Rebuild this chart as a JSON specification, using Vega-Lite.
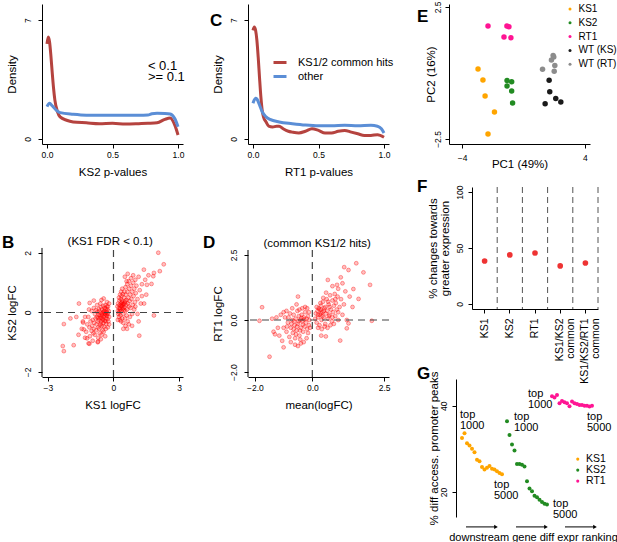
{
"$schema":"https://vega.github.io/schema/vega-lite/v6.json",
"padding":{"left":2,"top":0,"right":0,"bottom":0},
"autosize":{"type":"pad"},
"columns":5,"spacing":0,"align":"none","bounds":"flush",
"resolve":{"scale":{"color":"independent"},"legend":{"color":"independent"}},
"config":{
 "font":"Liberation Sans",
 "view":{"stroke":null},
 "axis":{"grid":false,"domainColor":"#000","tickColor":"#000","labelColor":"#000","titleColor":"#000","labelFontSize":8.5,"titleFontSize":11.5,"titleFontWeight":"normal","tickSize":4,"domainWidth":1,"tickWidth":1,"labelPadding":2.5,"titlePadding":7,"labelFlush":false,"labelOverlap":false},
 "axisY":{"labelAngle":-90,"labelAlign":"center","labelBaseline":"bottom","labelPadding":6,"titlePadding":6},
 "legend":{"padding":0,"labelColor":"#000","labelFont":"Liberation Sans"},
 "title":{"anchor":"start","frame":"group","fontSize":17,"fontWeight":"bold","baseline":"alphabetic","color":"#000"},
 "text":{"color":"#000"}
},
"concat":[
{"width":141,"height":140,
 "layer":[
  {"data":{"values":[
   {"p":0,"density":5.6,"fdr":"< 0.1"},{"p":0.01,"density":6.0,"fdr":"< 0.1"},{"p":0.02,"density":5.7,"fdr":"< 0.1"},{"p":0.03,"density":4.9,"fdr":"< 0.1"},{"p":0.04,"density":3.9,"fdr":"< 0.1"},{"p":0.05,"density":3.0,"fdr":"< 0.1"},{"p":0.06,"density":2.3,"fdr":"< 0.1"},{"p":0.08,"density":1.6,"fdr":"< 0.1"},{"p":0.1,"density":1.3,"fdr":"< 0.1"},{"p":0.15,"density":1.1,"fdr":"< 0.1"},{"p":0.2,"density":1.0,"fdr":"< 0.1"},{"p":0.3,"density":0.95,"fdr":"< 0.1"},{"p":0.4,"density":0.9,"fdr":"< 0.1"},{"p":0.5,"density":0.92,"fdr":"< 0.1"},{"p":0.6,"density":0.88,"fdr":"< 0.1"},{"p":0.7,"density":0.9,"fdr":"< 0.1"},{"p":0.77,"density":0.92,"fdr":"< 0.1"},{"p":0.84,"density":0.95,"fdr":"< 0.1"},{"p":0.9,"density":1.15,"fdr":"< 0.1"},{"p":0.94,"density":1.23,"fdr":"< 0.1"},{"p":0.977,"density":0.78,"fdr":"< 0.1"},{"p":1.0,"density":0.23,"fdr":"< 0.1"},
   {"p":0,"density":1.9,"fdr":">= 0.1"},{"p":0.02,"density":2.1,"fdr":">= 0.1"},{"p":0.04,"density":1.95,"fdr":">= 0.1"},{"p":0.07,"density":1.7,"fdr":">= 0.1"},{"p":0.1,"density":1.55,"fdr":">= 0.1"},{"p":0.2,"density":1.45,"fdr":">= 0.1"},{"p":0.3,"density":1.4,"fdr":">= 0.1"},{"p":0.4,"density":1.4,"fdr":">= 0.1"},{"p":0.5,"density":1.4,"fdr":">= 0.1"},{"p":0.6,"density":1.4,"fdr":">= 0.1"},{"p":0.7,"density":1.4,"fdr":">= 0.1"},{"p":0.77,"density":1.41,"fdr":">= 0.1"},{"p":0.8,"density":1.48,"fdr":">= 0.1"},{"p":0.84,"density":1.51,"fdr":">= 0.1"},{"p":0.9,"density":1.5,"fdr":">= 0.1"},{"p":0.94,"density":1.47,"fdr":">= 0.1"},{"p":0.977,"density":1.17,"fdr":">= 0.1"},{"p":1.0,"density":0.72,"fdr":">= 0.1"}
  ]},
  "mark":{"type":"line","strokeWidth":3,"interpolate":"monotone"},
  "encoding":{
   "x":{"field":"p","type":"quantitative","scale":{"domain":[-0.038,1.038],"nice":false,"zero":false},"axis":{"values":[0,0.5,1],"format":".1f","title":"KS2 p-values"}},
   "y":{"field":"density","type":"quantitative","scale":{"domain":[-0.3,7.95],"nice":false,"zero":false},"axis":{"values":[0,7],"title":"Density"}},
   "color":{"field":"fdr","type":"nominal","scale":{"domain":["< 0.1",">= 0.1"],"range":["#b5433f","#5b8ed6"]},"legend":null}}},
  {"data":{"values":[{}]},"mark":{"type":"text","text":"< 0.1","align":"left","baseline":"middle","fontSize":13},"encoding":{"x":{"datum":0.77},"y":{"datum":4.3}}},
  {"data":{"values":[{}]},"mark":{"type":"text","text":">= 0.1","align":"left","baseline":"middle","fontSize":13},"encoding":{"x":{"datum":0.77},"y":{"datum":3.62}}}
 ]},
{"width":65,"height":1,"data":{"values":[]},"mark":"point"},
{"width":141,"height":140,
 "title":{"text":"C","dx":-38,"offset":-25.5},
 "data":{"values":[
  {"p":0,"density":6.4,"group":"KS1/2 common hits"},{"p":0.01,"density":6.6,"group":"KS1/2 common hits"},{"p":0.02,"density":6.4,"group":"KS1/2 common hits"},{"p":0.03,"density":5.8,"group":"KS1/2 common hits"},{"p":0.04,"density":4.8,"group":"KS1/2 common hits"},{"p":0.05,"density":3.6,"group":"KS1/2 common hits"},{"p":0.06,"density":2.5,"group":"KS1/2 common hits"},{"p":0.07,"density":1.7,"group":"KS1/2 common hits"},{"p":0.08,"density":1.3,"group":"KS1/2 common hits"},{"p":0.1,"density":1.0,"group":"KS1/2 common hits"},{"p":0.12,"density":0.75,"group":"KS1/2 common hits"},{"p":0.15,"density":0.7,"group":"KS1/2 common hits"},{"p":0.18,"density":0.75,"group":"KS1/2 common hits"},{"p":0.2,"density":0.75,"group":"KS1/2 common hits"},{"p":0.23,"density":0.6,"group":"KS1/2 common hits"},{"p":0.27,"density":0.45,"group":"KS1/2 common hits"},{"p":0.3,"density":0.4,"group":"KS1/2 common hits"},{"p":0.35,"density":0.35,"group":"KS1/2 common hits"},{"p":0.4,"density":0.45,"group":"KS1/2 common hits"},{"p":0.45,"density":0.6,"group":"KS1/2 common hits"},{"p":0.5,"density":0.5,"group":"KS1/2 common hits"},{"p":0.55,"density":0.35,"group":"KS1/2 common hits"},{"p":0.6,"density":0.35,"group":"KS1/2 common hits"},{"p":0.65,"density":0.45,"group":"KS1/2 common hits"},{"p":0.7,"density":0.5,"group":"KS1/2 common hits"},{"p":0.75,"density":0.4,"group":"KS1/2 common hits"},{"p":0.8,"density":0.3,"group":"KS1/2 common hits"},{"p":0.85,"density":0.2,"group":"KS1/2 common hits"},{"p":0.9,"density":0.2,"group":"KS1/2 common hits"},{"p":0.95,"density":0.25,"group":"KS1/2 common hits"},{"p":1.0,"density":0.1,"group":"KS1/2 common hits"},
  {"p":0,"density":2.1,"group":"other"},{"p":0.01,"density":2.3,"group":"other"},{"p":0.02,"density":2.4,"group":"other"},{"p":0.03,"density":2.35,"group":"other"},{"p":0.05,"density":2.0,"group":"other"},{"p":0.07,"density":1.6,"group":"other"},{"p":0.1,"density":1.3,"group":"other"},{"p":0.13,"density":1.15,"group":"other"},{"p":0.2,"density":1.0,"group":"other"},{"p":0.3,"density":0.9,"group":"other"},{"p":0.4,"density":0.82,"group":"other"},{"p":0.5,"density":0.78,"group":"other"},{"p":0.6,"density":0.78,"group":"other"},{"p":0.7,"density":0.8,"group":"other"},{"p":0.8,"density":0.78,"group":"other"},{"p":0.9,"density":0.8,"group":"other"},{"p":0.95,"density":0.75,"group":"other"},{"p":0.98,"density":0.6,"group":"other"},{"p":1.0,"density":0.35,"group":"other"}
 ]},
 "mark":{"type":"line","strokeWidth":3,"interpolate":"monotone"},
 "encoding":{
  "x":{"field":"p","type":"quantitative","scale":{"domain":[-0.038,1.038],"nice":false,"zero":false},"axis":{"values":[0,0.5,1],"format":".1f","title":"RT1 p-values"}},
  "y":{"field":"density","type":"quantitative","scale":{"domain":[-0.3,7.95],"nice":false,"zero":false},"axis":{"values":[0,7],"title":"Density"}},
  "color":{"field":"group","type":"nominal","scale":{"domain":["KS1/2 common hits","other"],"range":["#b5433f","#5b8ed6"]},
   "legend":{"orient":"none","legendX":24,"legendY":50.5,"title":null,"symbolType":"stroke","symbolStrokeWidth":3,"symbolSize":169,"labelFontSize":11,"labelOffset":10,"rowPadding":0}}}},
{"width":60,"height":1,"data":{"values":[]},"mark":"point"},
{"width":141,"height":140,
 "title":{"text":"E","dx":-32,"offset":-25.5},
 "data":{"values":[
  {"PC1":-2.96,"PC2":0.15,"sample":"KS1"},{"PC1":-2.64,"PC2":-0.27,"sample":"KS1"},{"PC1":-2.5,"PC2":-0.87,"sample":"KS1"},{"PC1":-1.89,"PC2":-1.48,"sample":"KS1"},{"PC1":-2.31,"PC2":-2.31,"sample":"KS1"},
  {"PC1":-1.07,"PC2":-0.29,"sample":"KS2"},{"PC1":-0.77,"PC2":-0.33,"sample":"KS2"},{"PC1":-1.07,"PC2":-0.49,"sample":"KS2"},{"PC1":-0.77,"PC2":-0.68,"sample":"KS2"},{"PC1":-0.71,"PC2":-1.14,"sample":"KS2"},
  {"PC1":-2.31,"PC2":1.78,"sample":"RT1"},{"PC1":-1.08,"PC2":1.78,"sample":"RT1"},{"PC1":-0.95,"PC2":1.75,"sample":"RT1"},{"PC1":-1.27,"PC2":1.36,"sample":"RT1"},{"PC1":-0.82,"PC2":1.33,"sample":"RT1"},
  {"PC1":1.67,"PC2":-0.28,"sample":"WT (KS)"},{"PC1":1.71,"PC2":-0.71,"sample":"WT (KS)"},{"PC1":1.41,"PC2":-1.17,"sample":"WT (KS)"},{"PC1":2.1,"PC2":-0.97,"sample":"WT (KS)"},{"PC1":2.43,"PC2":-1.1,"sample":"WT (KS)"},
  {"PC1":1.24,"PC2":0.14,"sample":"WT (RT)"},{"PC1":1.93,"PC2":0.66,"sample":"WT (RT)"},{"PC1":1.97,"PC2":0.6,"sample":"WT (RT)"},{"PC1":1.82,"PC2":0.49,"sample":"WT (RT)"},{"PC1":2.04,"PC2":0.28,"sample":"WT (RT)"},{"PC1":2.0,"PC2":0.06,"sample":"WT (RT)"}
 ]},
 "mark":{"type":"circle","size":30,"opacity":1},
 "encoding":{
  "x":{"field":"PC1","type":"quantitative","scale":{"domain":[-4.85,4.33],"nice":false,"zero":false},"axis":{"values":[-4,4],"format":"d","title":"PC1 (49%)","labelPadding":5,"titlePadding":-3}},
  "y":{"field":"PC2","type":"quantitative","scale":{"domain":[-2.69,2.61],"nice":false,"zero":false},"axis":{"values":[-2.5,2.5],"format":".1f","title":"PC2 (16%)","labelPadding":3,"titlePadding":-3}},
  "color":{"field":"sample","type":"nominal","scale":{"domain":["KS1","KS2","RT1","WT (KS)","WT (RT)"],"range":["#ffa500","#228b22","#ff1493","#1a1a1a","#8c8c8c"]},
   "legend":{"orient":"none","legendX":116,"legendY":0,"title":null,"symbolType":"circle","symbolSize":9,"labelFontSize":10,"labelOffset":3.5,"rowPadding":3.8}}}},
{"width":141,"height":43,"data":{"values":[]},"mark":"point"},
{"width":65,"height":1,"data":{"values":[]},"mark":"point"},
{"width":141,"height":1,"data":{"values":[]},"mark":"point"},
{"width":60,"height":1,"data":{"values":[]},"mark":"point"},
{"width":141,"height":1,"data":{"values":[]},"mark":"point"},
{"width":141,"height":190,
 "title":{"text":"B","dx":-40,"offset":-64.5},
 "layer":[
  {"data":{"values":[
   {"KS1":-0.22,"KS2":0.05},{"KS1":-0.25,"KS2":-0.05},{"KS1":-0.28,"KS2":0.1},{"KS1":-0.3,"KS2":-0.12},{"KS1":-0.32,"KS2":0.02},{"KS1":-0.35,"KS2":-0.2},{"KS1":-0.36,"KS2":0.12},{"KS1":-0.38,"KS2":-0.05},{"KS1":-0.4,"KS2":-0.28},{"KS1":-0.42,"KS2":0.06},{"KS1":-0.44,"KS2":-0.15},{"KS1":-0.46,"KS2":-0.35},{"KS1":-0.48,"KS2":0.0},{"KS1":-0.5,"KS2":-0.22},{"KS1":-0.52,"KS2":0.1},{"KS1":-0.54,"KS2":-0.1},{"KS1":-0.56,"KS2":-0.3},{"KS1":-0.58,"KS2":-0.02},{"KS1":-0.6,"KS2":-0.18},{"KS1":-0.62,"KS2":-0.42},{"KS1":-0.64,"KS2":0.05},{"KS1":-0.66,"KS2":-0.25},{"KS1":-0.68,"KS2":-0.08},{"KS1":-0.7,"KS2":-0.5},{"KS1":-0.72,"KS2":-0.3},{"KS1":-0.74,"KS2":0.02},{"KS1":-0.76,"KS2":-0.15},{"KS1":-0.78,"KS2":-0.4},{"KS1":-0.8,"KS2":-0.6},{"KS1":-0.82,"KS2":-0.2},{"KS1":-0.85,"KS2":-0.05},{"KS1":-0.88,"KS2":-0.35},{"KS1":-0.9,"KS2":-0.55},{"KS1":-0.92,"KS2":-0.7},{"KS1":-0.95,"KS2":-0.25},{"KS1":-0.98,"KS2":-0.45},{"KS1":-1.0,"KS2":-0.62},{"KS1":-1.05,"KS2":-0.3},{"KS1":-1.08,"KS2":-0.8},{"KS1":-1.1,"KS2":-0.5},{"KS1":-1.15,"KS2":-0.15},{"KS1":-1.2,"KS2":-0.4},{"KS1":-1.25,"KS2":-0.65},{"KS1":-1.3,"KS2":-0.85},{"KS1":-0.2,"KS2":-0.15},{"KS1":-0.23,"KS2":-0.3},{"KS1":-0.27,"KS2":-0.22},{"KS1":-0.3,"KS2":0.2},{"KS1":-0.33,"KS2":-0.38},{"KS1":-0.37,"KS2":0.25},{"KS1":-0.4,"KS2":0.15},{"KS1":-0.43,"KS2":-0.48},{"KS1":-0.47,"KS2":0.22},{"KS1":-0.5,"KS2":-0.6},{"KS1":-0.53,"KS2":-0.45},{"KS1":-0.57,"KS2":0.18},{"KS1":-0.6,"KS2":0.3},{"KS1":-0.63,"KS2":-0.7},{"KS1":-0.67,"KS2":0.12},{"KS1":-0.7,"KS2":-0.85},{"KS1":-0.75,"KS2":0.25},{"KS1":-0.8,"KS2":0.08},{"KS1":-0.85,"KS2":-0.75},{"KS1":-0.9,"KS2":0.15},{"KS1":-0.95,"KS2":-0.95},{"KS1":-1.0,"KS2":0.05},{"KS1":-0.55,"KS2":-0.75},{"KS1":-0.45,"KS2":-0.65},{"KS1":-0.35,"KS2":-0.55},{"KS1":-0.65,"KS2":-0.55},{"KS1":-0.25,"KS2":0.2},{"KS1":-0.2,"KS2":0.3},{"KS1":-0.3,"KS2":0.35},{"KS1":-0.2,"KS2":-0.4},{"KS1":-0.26,"KS2":-0.5},{"KS1":-0.38,"KS2":-0.8},{"KS1":-0.58,"KS2":-0.9},{"KS1":-0.72,"KS2":-1.0},{"KS1":-1.1,"KS2":-1.05},{"KS1":-1.12,"KS2":0.1},{"KS1":-1.3,"KS2":-0.15},{"KS1":-1.45,"KS2":-0.55},{"KS1":-1.4,"KS2":-0.3},
   {"KS1":-0.33,"KS2":-0.08},{"KS1":-0.41,"KS2":-0.1},{"KS1":-0.45,"KS2":0.03},{"KS1":-0.52,"KS2":-0.05},{"KS1":-0.55,"KS2":-0.18},{"KS1":-0.62,"KS2":-0.1},{"KS1":-0.36,"KS2":-0.3},{"KS1":-0.28,"KS2":-0.02},{"KS1":-0.48,"KS2":-0.25},{"KS1":-0.7,"KS2":-0.18},{"KS1":-0.58,"KS2":-0.38},{"KS1":-0.4,"KS2":-0.02},
   {"KS1":-2.27,"KS2":-0.39},{"KS1":-2.32,"KS2":-1.13},{"KS1":-2.27,"KS2":-1.3},{"KS1":-1.82,"KS2":-1.1},{"KS1":-1.58,"KS2":0.3},{"KS1":-1.09,"KS2":0.32},{"KS1":-0.45,"KS2":0.47},{"KS1":-1.97,"KS2":-0.2},{"KS1":-1.7,"KS2":-0.15},{"KS1":-1.39,"KS2":-0.34},{"KS1":-1.14,"KS2":-1.04},{"KS1":-0.71,"KS2":-0.98},{"KS1":-1.21,"KS2":-0.87},{"KS1":-1.36,"KS2":-0.57},{"KS1":-1.6,"KS2":-0.75},{"KS1":-0.9,"KS2":0.4},{"KS1":-0.55,"KS2":0.42},
   {"KS1":0.2,"KS2":0.05},{"KS1":0.22,"KS2":-0.05},{"KS1":0.24,"KS2":0.15},{"KS1":0.26,"KS2":0.0},{"KS1":0.28,"KS2":0.25},{"KS1":0.3,"KS2":0.1},{"KS1":0.32,"KS2":-0.1},{"KS1":0.34,"KS2":0.3},{"KS1":0.36,"KS2":0.05},{"KS1":0.38,"KS2":0.2},{"KS1":0.4,"KS2":0.4},{"KS1":0.42,"KS2":0.12},{"KS1":0.44,"KS2":-0.05},{"KS1":0.46,"KS2":0.28},{"KS1":0.48,"KS2":0.5},{"KS1":0.5,"KS2":0.18},{"KS1":0.52,"KS2":0.35},{"KS1":0.54,"KS2":0.05},{"KS1":0.56,"KS2":0.6},{"KS1":0.58,"KS2":0.25},{"KS1":0.6,"KS2":0.42},{"KS1":0.62,"KS2":0.1},{"KS1":0.64,"KS2":0.7},{"KS1":0.66,"KS2":0.3},{"KS1":0.68,"KS2":0.5},{"KS1":0.7,"KS2":0.2},{"KS1":0.72,"KS2":0.8},{"KS1":0.74,"KS2":0.38},{"KS1":0.76,"KS2":0.6},{"KS1":0.78,"KS2":0.15},{"KS1":0.8,"KS2":0.9},{"KS1":0.82,"KS2":0.45},{"KS1":0.85,"KS2":0.7},{"KS1":0.88,"KS2":0.25},{"KS1":0.9,"KS2":1.0},{"KS1":0.92,"KS2":0.55},{"KS1":0.95,"KS2":0.8},{"KS1":0.98,"KS2":0.35},{"KS1":1.0,"KS2":1.1},{"KS1":1.02,"KS2":0.65},{"KS1":1.05,"KS2":0.9},{"KS1":1.1,"KS2":0.45},{"KS1":1.15,"KS2":1.2},{"KS1":1.2,"KS2":0.75},{"KS1":0.18,"KS2":0.2},{"KS1":0.21,"KS2":0.3},{"KS1":0.25,"KS2":-0.15},{"KS1":0.27,"KS2":0.4},{"KS1":0.3,"KS2":-0.25},{"KS1":0.33,"KS2":0.45},{"KS1":0.35,"KS2":-0.3},{"KS1":0.37,"KS2":0.55},{"KS1":0.4,"KS2":-0.2},{"KS1":0.43,"KS2":0.62},{"KS1":0.45,"KS2":-0.35},{"KS1":0.5,"KS2":0.7},{"KS1":0.53,"KS2":-0.2},{"KS1":0.55,"KS2":0.85},{"KS1":0.6,"KS2":-0.1},{"KS1":0.63,"KS2":0.95},{"KS1":0.65,"KS2":-0.3},{"KS1":0.7,"KS2":1.05},{"KS1":0.75,"KS2":-0.15},{"KS1":0.8,"KS2":1.15},{"KS1":0.85,"KS2":-0.05},{"KS1":0.9,"KS2":1.25},{"KS1":0.95,"KS2":0.1},{"KS1":0.55,"KS2":-0.45},{"KS1":0.45,"KS2":-0.55},{"KS1":0.7,"KS2":-0.4},{"KS1":0.3,"KS2":0.6},{"KS1":0.25,"KS2":0.5},{"KS1":0.2,"KS2":-0.25},{"KS1":0.35,"KS2":0.7},{"KS1":0.6,"KS2":1.05},{"KS1":0.4,"KS2":0.8},{"KS1":0.52,"KS2":1.2},{"KS1":0.65,"KS2":1.3},{"KS1":1.1,"KS2":-0.05},{"KS1":1.0,"KS2":0.2},{"KS1":1.25,"KS2":0.3},{"KS1":1.3,"KS2":0.55},{"KS1":0.85,"KS2":-0.45},{"KS1":0.62,"KS2":-0.55},{"KS1":1.15,"KS2":-0.3},
   {"KS1":0.3,"KS2":0.15},{"KS1":0.35,"KS2":0.22},{"KS1":0.4,"KS2":0.25},{"KS1":0.45,"KS2":0.15},{"KS1":0.5,"KS2":0.3},{"KS1":0.28,"KS2":0.05},{"KS1":0.38,"KS2":0.35},{"KS1":0.48,"KS2":0.08},{"KS1":0.55,"KS2":0.4},{"KS1":0.42,"KS2":0.3},
   {"KS1":2.05,"KS2":2.01},{"KS1":2.3,"KS2":1.62},{"KS1":2.12,"KS2":1.39},{"KS1":1.85,"KS2":1.33},{"KS1":1.82,"KS2":1.22},{"KS1":1.39,"KS2":1.44},{"KS1":1.74,"KS2":0.96},{"KS1":1.53,"KS2":0.93},{"KS1":1.85,"KS2":-0.1},{"KS1":1.18,"KS2":-0.78},{"KS1":1.45,"KS2":1.1},{"KS1":1.3,"KS2":0.95},{"KS1":1.6,"KS2":1.25},{"KS1":1.5,"KS2":0.6},{"KS1":1.4,"KS2":0.3}
  ]},
  "mark":{"type":"circle","size":15,"fill":"#ff0000","fillOpacity":0.25,"stroke":"#ff0000","strokeOpacity":0.45,"strokeWidth":0.8},
  "encoding":{
   "x":{"field":"KS1","type":"quantitative","scale":{"domain":[-3.27,3.18],"nice":false,"zero":false},"axis":{"values":[-3,0,3],"title":"KS1 logFC"}},
   "y":{"field":"KS2","type":"quantitative","scale":{"domain":[-2.17,4.22],"nice":false,"zero":false},"axis":{"values":[-2,0,2],"title":"KS2 logFC","domain":false,"titleY":125.5}}}},
  {"data":{"values":[{}]},"mark":{"type":"rule","color":"#000","strokeWidth":1},"encoding":{"x":{"datum":-3.27},"y":{"datum":-2.17},"y2":{"datum":2.17}}},
  {"data":{"values":[{}]},"mark":{"type":"rule","strokeDash":[7,5],"color":"#444","strokeWidth":1.2},"encoding":{"x":{"datum":0},"y":{"datum":-2.17},"y2":{"datum":2.17}}},
  {"data":{"values":[{}]},"mark":{"type":"rule","strokeDash":[7,5],"color":"#444","strokeWidth":1.2},"encoding":{"y":{"datum":0}}},
  {"data":{"values":[{}]},"mark":{"type":"text","text":"(KS1 FDR < 0.1)","fontSize":11.5,"align":"center","baseline":"middle"},"encoding":{"x":{"datum":-0.15},"y":{"datum":2.37}}}
 ]},
{"width":65,"height":1,"data":{"values":[]},"mark":"point"},
{"width":141,"height":190,
 "title":{"text":"D","dx":-45,"offset":-64.5},
 "layer":[
  {"data":{"values":[
   {"meanLogFC":-0.1,"RT1":0.0},{"meanLogFC":-0.12,"RT1":-0.2},{"meanLogFC":-0.15,"RT1":0.15},{"meanLogFC":-0.18,"RT1":-0.35},{"meanLogFC":-0.2,"RT1":0.05},{"meanLogFC":-0.22,"RT1":-0.1},{"meanLogFC":-0.25,"RT1":0.3},{"meanLogFC":-0.27,"RT1":-0.25},{"meanLogFC":-0.3,"RT1":0.1},{"meanLogFC":-0.32,"RT1":-0.45},{"meanLogFC":-0.35,"RT1":-0.05},{"meanLogFC":-0.37,"RT1":0.2},{"meanLogFC":-0.4,"RT1":-0.3},{"meanLogFC":-0.42,"RT1":0.0},{"meanLogFC":-0.45,"RT1":-0.6},{"meanLogFC":-0.47,"RT1":0.15},{"meanLogFC":-0.5,"RT1":-0.15},{"meanLogFC":-0.52,"RT1":0.35},{"meanLogFC":-0.55,"RT1":-0.4},{"meanLogFC":-0.58,"RT1":0.05},{"meanLogFC":-0.6,"RT1":-0.7},{"meanLogFC":-0.62,"RT1":-0.2},{"meanLogFC":-0.65,"RT1":0.2},{"meanLogFC":-0.68,"RT1":-0.5},{"meanLogFC":-0.7,"RT1":0.0},{"meanLogFC":-0.75,"RT1":-0.3},{"meanLogFC":-0.78,"RT1":0.25},{"meanLogFC":-0.8,"RT1":-0.65},{"meanLogFC":-0.85,"RT1":-0.1},{"meanLogFC":-0.9,"RT1":-0.45},{"meanLogFC":-0.95,"RT1":0.1},{"meanLogFC":-1.0,"RT1":-0.3},{"meanLogFC":-1.05,"RT1":-0.8},{"meanLogFC":-1.1,"RT1":0.2},{"meanLogFC":-0.15,"RT1":-0.5},{"meanLogFC":-0.2,"RT1":-0.7},{"meanLogFC":-0.25,"RT1":0.5},{"meanLogFC":-0.3,"RT1":-0.85},{"meanLogFC":-0.35,"RT1":0.45},{"meanLogFC":-0.4,"RT1":-0.9},{"meanLogFC":-0.45,"RT1":0.4},{"meanLogFC":-0.5,"RT1":-1.0},{"meanLogFC":-0.55,"RT1":0.6},{"meanLogFC":-0.6,"RT1":-0.95},{"meanLogFC":-0.7,"RT1":0.45},{"meanLogFC":-0.75,"RT1":-0.85},{"meanLogFC":-0.9,"RT1":0.35},{"meanLogFC":-1.0,"RT1":0.3},{"meanLogFC":-1.2,"RT1":-0.3},{"meanLogFC":-1.25,"RT1":0.1},{"meanLogFC":-1.3,"RT1":-0.55},{"meanLogFC":-0.28,"RT1":0.02},{"meanLogFC":-0.33,"RT1":-0.18},{"meanLogFC":-0.38,"RT1":0.08},{"meanLogFC":-0.43,"RT1":-0.4},{"meanLogFC":-0.48,"RT1":-0.05},{"meanLogFC":-0.53,"RT1":-0.25},{"meanLogFC":-0.63,"RT1":-0.05},{"meanLogFC":-0.73,"RT1":-0.15},{"meanLogFC":-0.83,"RT1":0.1},{"meanLogFC":-0.88,"RT1":-0.25},{"meanLogFC":-0.12,"RT1":0.3},{"meanLogFC":-0.08,"RT1":-0.3},{"meanLogFC":-0.18,"RT1":0.45},{"meanLogFC":-0.65,"RT1":-0.35},{"meanLogFC":-0.57,"RT1":-0.55},{"meanLogFC":-0.42,"RT1":-0.75},{"meanLogFC":-1.15,"RT1":-0.6},{"meanLogFC":-1.4,"RT1":0.05},
   {"meanLogFC":-0.5,"RT1":0.9},{"meanLogFC":-1.75,"RT1":0.49},{"meanLogFC":-1.84,"RT1":-0.03},{"meanLogFC":-1.49,"RT1":-1.41},{"meanLogFC":-1.0,"RT1":-1.05},{"meanLogFC":-1.35,"RT1":-0.45},
   {"meanLogFC":0.1,"RT1":0.05},{"meanLogFC":0.12,"RT1":0.25},{"meanLogFC":0.15,"RT1":-0.1},{"meanLogFC":0.18,"RT1":0.35},{"meanLogFC":0.2,"RT1":0.1},{"meanLogFC":0.22,"RT1":0.45},{"meanLogFC":0.25,"RT1":-0.2},{"meanLogFC":0.27,"RT1":0.2},{"meanLogFC":0.3,"RT1":0.55},{"meanLogFC":0.32,"RT1":0.0},{"meanLogFC":0.35,"RT1":0.3},{"meanLogFC":0.37,"RT1":0.7},{"meanLogFC":0.4,"RT1":0.1},{"meanLogFC":0.42,"RT1":0.45},{"meanLogFC":0.45,"RT1":-0.15},{"meanLogFC":0.47,"RT1":0.25},{"meanLogFC":0.5,"RT1":0.8},{"meanLogFC":0.52,"RT1":0.35},{"meanLogFC":0.55,"RT1":0.05},{"meanLogFC":0.57,"RT1":0.6},{"meanLogFC":0.6,"RT1":0.2},{"meanLogFC":0.62,"RT1":0.95},{"meanLogFC":0.65,"RT1":0.4},{"meanLogFC":0.68,"RT1":-0.05},{"meanLogFC":0.7,"RT1":0.75},{"meanLogFC":0.72,"RT1":0.3},{"meanLogFC":0.75,"RT1":0.55},{"meanLogFC":0.78,"RT1":1.0},{"meanLogFC":0.8,"RT1":0.15},{"meanLogFC":0.82,"RT1":0.65},{"meanLogFC":0.85,"RT1":0.4},{"meanLogFC":0.88,"RT1":0.9},{"meanLogFC":0.9,"RT1":0.0},{"meanLogFC":0.95,"RT1":0.5},{"meanLogFC":1.0,"RT1":0.8},{"meanLogFC":0.15,"RT1":0.5},{"meanLogFC":0.2,"RT1":-0.3},{"meanLogFC":0.28,"RT1":0.65},{"meanLogFC":0.33,"RT1":-0.35},{"meanLogFC":0.38,"RT1":0.85},{"meanLogFC":0.43,"RT1":-0.25},{"meanLogFC":0.48,"RT1":1.05},{"meanLogFC":0.53,"RT1":-0.3},{"meanLogFC":0.58,"RT1":0.15},{"meanLogFC":0.63,"RT1":-0.2},{"meanLogFC":0.25,"RT1":0.4},{"meanLogFC":0.3,"RT1":0.25},{"meanLogFC":0.35,"RT1":0.15},{"meanLogFC":0.4,"RT1":0.35},{"meanLogFC":0.45,"RT1":0.5},{"meanLogFC":0.2,"RT1":0.2},{"meanLogFC":0.3,"RT1":0.4},{"meanLogFC":0.55,"RT1":0.7},{"meanLogFC":0.6,"RT1":0.5},{"meanLogFC":0.7,"RT1":0.1},{"meanLogFC":0.8,"RT1":0.8},{"meanLogFC":0.9,"RT1":0.3},{"meanLogFC":1.05,"RT1":0.2},{"meanLogFC":1.1,"RT1":0.6},{"meanLogFC":0.75,"RT1":-0.15},
   {"meanLogFC":1.53,"RT1":2.18},{"meanLogFC":1.11,"RT1":2.03},{"meanLogFC":1.26,"RT1":1.92},{"meanLogFC":1.78,"RT1":1.83},{"meanLogFC":0.99,"RT1":1.64},{"meanLogFC":0.54,"RT1":1.54},{"meanLogFC":1.05,"RT1":1.41},{"meanLogFC":0.86,"RT1":1.35},{"meanLogFC":1.43,"RT1":1.19},{"meanLogFC":2.01,"RT1":1.35},{"meanLogFC":1.61,"RT1":0.81},{"meanLogFC":2.07,"RT1":-0.03},{"meanLogFC":0.97,"RT1":-0.79},{"meanLogFC":0.31,"RT1":-0.6},{"meanLogFC":0.47,"RT1":-0.63},{"meanLogFC":1.26,"RT1":-0.13},{"meanLogFC":1.2,"RT1":-0.32},{"meanLogFC":1.3,"RT1":0.9},{"meanLogFC":1.15,"RT1":1.1},{"meanLogFC":0.9,"RT1":1.2},{"meanLogFC":0.7,"RT1":1.3},{"meanLogFC":1.4,"RT1":0.5},{"meanLogFC":1.2,"RT1":0.0}
  ]},
  "mark":{"type":"circle","size":15,"fill":"#ff0000","fillOpacity":0.25,"stroke":"#ff0000","strokeOpacity":0.45,"strokeWidth":0.8},
  "encoding":{
   "x":{"field":"meanLogFC","type":"quantitative","scale":{"domain":[-2.24,2.67],"nice":false,"zero":false},"axis":{"values":[-2,0,2.5],"format":".1f","title":"mean(logFC)"}},
   "y":{"field":"RT1","type":"quantitative","scale":{"domain":[-2.19,5.11],"nice":false,"zero":false},"axis":{"values":[-2,0,2.5],"format":".1f","title":"RT1 logFC","domain":false,"titleY":126.5}}}},
  {"data":{"values":[{}]},"mark":{"type":"rule","color":"#000","strokeWidth":1},"encoding":{"x":{"datum":-2.24},"y":{"datum":-2.19},"y2":{"datum":2.69}}},
  {"data":{"values":[{}]},"mark":{"type":"rule","strokeDash":[7,5],"color":"#444","strokeWidth":1.2},"encoding":{"x":{"datum":0},"y":{"datum":-2.19},"y2":{"datum":2.69}}},
  {"data":{"values":[{}]},"mark":{"type":"rule","strokeDash":[7,5],"color":"#444","strokeWidth":1.2},"encoding":{"y":{"datum":0}}},
  {"data":{"values":[{}]},"mark":{"type":"text","text":"(common KS1/2 hits)","fontSize":11.5,"align":"center","baseline":"middle"},"encoding":{"x":{"datum":0.17},"y":{"datum":2.92}}}
 ]},
{"width":60,"height":1,"data":{"values":[]},"mark":"point"},
{"width":149,"height":122,
 "title":{"text":"F","dx":-32,"offset":-11.5},
 "data":{"values":[{"set":"KS1","pct":38.4},{"set":"KS2","pct":43.8},{"set":"RT1","pct":45.5},{"set":"KS1/KS2 common","pct":34},{"set":"KS1/KS2/RT1 common","pct":36.6}]},
 "layer":[
  {"mark":{"type":"rule","strokeDash":[6,4],"color":"#555","strokeWidth":1},
   "encoding":{"x":{"field":"set","type":"nominal","sort":null,"bandPosition":1,"scale":{"type":"band","paddingInner":0,"paddingOuter":0,"range":[23,149]}}}},
  {"mark":{"type":"circle","size":32,"color":"#ee3333","opacity":1},
   "encoding":{
    "x":{"field":"set","type":"nominal","sort":null,"scale":{"type":"band","paddingInner":0,"paddingOuter":0,"range":[23,149]},"axis":{"title":null,"labelAngle":-90,"labelAlign":"right","labelBaseline":"middle","labelExpr":"split(datum.label, ' ')","labelFontSize":10.5,"labelLineHeight":11,"labelPadding":5}},
    "y":{"field":"pct","type":"quantitative","scale":{"domain":[-4.5,104.5],"nice":false,"zero":false},"axis":{"values":[0,50,100],"offset":-23,"title":["% changes towards","greater expression"],"labelPadding":4,"titlePadding":5,"titleLineHeight":12}}}}
 ]},
{"width":141,"height":2,"data":{"values":[]},"mark":"point"},
{"width":65,"height":1,"data":{"values":[]},"mark":"point"},
{"width":141,"height":1,"data":{"values":[]},"mark":"point"},
{"width":60,"height":1,"data":{"values":[]},"mark":"point"},
{"width":141,"height":1,"data":{"values":[]},"mark":"point"},
{"width":141,"height":1,"data":{"values":[]},"mark":"point"},
{"width":65,"height":1,"data":{"values":[]},"mark":"point"},
{"width":141,"height":1,"data":{"values":[]},"mark":"point"},
{"width":60,"height":1,"data":{"values":[]},"mark":"point"},
{"width":161,"height":138,
 "title":{"text":"G","dx":-32,"offset":-11.5},
 "layer":[
  {"data":{"values":[
   {"set":"KS1","step":1,"pct":32.5},{"set":"KS1","step":2,"pct":33.6},{"set":"KS1","step":3,"pct":31.3},{"set":"KS1","step":4,"pct":30.8},{"set":"KS1","step":5,"pct":30.0},{"set":"KS1","step":6,"pct":29.2},{"set":"KS1","step":7,"pct":27.5},{"set":"KS1","step":8,"pct":27.1},{"set":"KS1","step":9,"pct":25.8},{"set":"KS1","step":10,"pct":25.2},{"set":"KS1","step":11,"pct":25.6},{"set":"KS1","step":12,"pct":26.0},{"set":"KS1","step":13,"pct":25.4},{"set":"KS1","step":14,"pct":25.2},{"set":"KS1","step":15,"pct":24.8},{"set":"KS1","step":16,"pct":24.4},{"set":"KS1","step":17,"pct":24.1},
   {"set":"KS2","step":19,"pct":36.4},{"set":"KS2","step":20,"pct":33.2},{"set":"KS2","step":21,"pct":31.0},{"set":"KS2","step":22,"pct":29.6},{"set":"KS2","step":23,"pct":26.5},{"set":"KS2","step":24,"pct":26.5},{"set":"KS2","step":25,"pct":26.3},{"set":"KS2","step":26,"pct":25.9},{"set":"KS2","step":27,"pct":22.5},{"set":"KS2","step":28,"pct":20.8},{"set":"KS2","step":29,"pct":20.2},{"set":"KS2","step":30,"pct":19.1},{"set":"KS2","step":31,"pct":18.8},{"set":"KS2","step":32,"pct":18.2},{"set":"KS2","step":33,"pct":17.7},{"set":"KS2","step":34,"pct":17.3},{"set":"KS2","step":35,"pct":17.1},
   {"set":"RT1","step":37,"pct":42.2},{"set":"RT1","step":38,"pct":41.9},{"set":"RT1","step":39,"pct":42.5},{"set":"RT1","step":40,"pct":40.6},{"set":"RT1","step":41,"pct":41.1},{"set":"RT1","step":42,"pct":40.8},{"set":"RT1","step":43,"pct":40.6},{"set":"RT1","step":44,"pct":39.9},{"set":"RT1","step":45,"pct":41.0},{"set":"RT1","step":46,"pct":40.6},{"set":"RT1","step":47,"pct":40.4},{"set":"RT1","step":48,"pct":40.2},{"set":"RT1","step":49,"pct":40.2},{"set":"RT1","step":50,"pct":40.0},{"set":"RT1","step":51,"pct":40.0},{"set":"RT1","step":52,"pct":39.8},{"set":"RT1","step":53,"pct":40.0}
  ]},
  "mark":{"type":"circle","size":16,"opacity":1},
  "encoding":{
   "x":{"field":"step","type":"quantitative","scale":{"domain":[-1.4,60.2],"nice":false,"zero":false,"range":[7,161]},"axis":{"title":"downstream gene diff expr ranking","titleFontSize":11,"domain":false,"ticks":false,"labels":false,"titlePadding":14}},
   "y":{"field":"pct","type":"quantitative","scale":{"domain":[14.2,46.2],"nice":false,"zero":false},"axis":{"values":[20,40],"offset":-7,"title":"% diff access. promoter peaks","labelPadding":3.5,"titlePadding":0}},
   "color":{"field":"set","type":"nominal","scale":{"domain":["KS1","KS2","RT1"],"range":["#ffa500","#228b22","#ff1493"]},
    "legend":{"orient":"none","legendX":123.5,"legendY":74.8,"title":null,"symbolType":"circle","symbolSize":10,"labelFontSize":10.5,"labelOffset":3,"rowPadding":0}}}},
  {"data":{"values":[
   {"step":0.2,"pct":39.35,"label":"top\n1000"},{"step":21.8,"pct":38.8,"label":"top\n1000"},{"step":27.4,"pct":44.0,"label":"top\n1000"},{"step":51,"pct":38.8,"label":"top\n5000"},{"step":13.8,"pct":23.0,"label":"top\n5000"},{"step":37.4,"pct":18.6,"label":"top\n5000"}
  ]},
  "mark":{"type":"text","align":"left","baseline":"top","fontSize":11,"lineHeight":11,"lineBreak":"\n"},
  "encoding":{"x":{"field":"step","type":"quantitative"},"y":{"field":"pct","type":"quantitative"},"text":{"field":"label"}}},
  {"data":{"values":[{"from":2.6,"to":14.6},{"from":22.6,"to":34.6},{"from":42.2,"to":54.2}]},
   "layer":[
    {"mark":{"type":"rule","color":"#000","strokeWidth":1},"encoding":{"x":{"field":"from","type":"quantitative"},"x2":{"field":"to"},"y":{"datum":11.9}}},
    {"mark":{"type":"point","shape":"triangle-right","filled":true,"color":"#000","size":18,"opacity":1},"encoding":{"x":{"field":"to","type":"quantitative"},"y":{"datum":11.9}}}
   ]}
 ]}
]
}
